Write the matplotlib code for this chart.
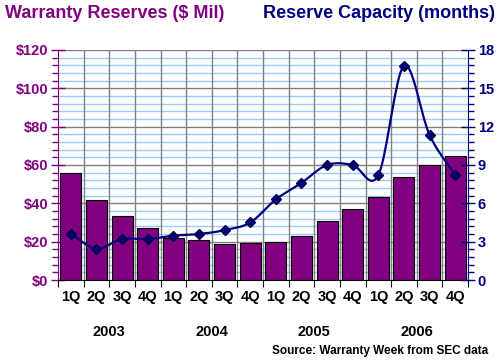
import matplotlib
matplotlib.use("Agg")
import matplotlib.pyplot as plt
import numpy as np

plt.rcParams["font.family"] = ["Liberation Sans", "DejaVu Sans"]
plt.rcParams["font.weight"] = "bold"

quarters = ["1Q", "2Q", "3Q", "4Q"] * 4
years = ["2003", "2004", "2005", "2006"]
reserves = [55.7, 41.6, 33.2, 27.0, 21.7, 20.7, 18.6, 19.3,
            19.8, 22.8, 30.6, 36.9, 43.1, 53.6, 59.8, 64.5]
capacity = [3.6, 2.45, 3.2, 3.2, 3.47, 3.6, 3.9, 4.5,
            6.3, 7.6, 9.0, 9.0, 8.2, 16.75, 11.35, 8.2]

PURPLE = "#800080"
NAVY = "#000080"


def smooth(x, y, n=20):
    # Catmull-Rom spline, like Excel's "smoothed line"
    x = np.asarray(x, float)
    y = np.asarray(y, float)
    px = np.concatenate([[2 * x[0] - x[1]], x, [2 * x[-1] - x[-2]]])
    py = np.concatenate([[2 * y[0] - y[1]], y, [2 * y[-1] - y[-2]]])
    xs, ys = [], []
    t = np.linspace(0, 1, n)
    for i in range(1, len(px) - 2):
        for p, out in ((px, xs), (py, ys)):
            p0, p1, p2, p3 = p[i - 1], p[i], p[i + 1], p[i + 2]
            out.extend(0.5 * ((2 * p1) + (-p0 + p2) * t
                              + (2 * p0 - 5 * p1 + 4 * p2 - p3) * t ** 2
                              + (-p0 + 3 * p1 - 3 * p2 + p3) * t ** 3))
    return np.array(xs), np.array(ys)


fig = plt.figure(figsize=(5, 3.62), dpi=100)
ax = fig.add_axes([0.116, 0.2265, 0.82, 0.6355])
x = np.arange(len(reserves))

# grid: light blue minor, gray major horizontal, gray vertical at category edges
for v in np.arange(0, 121, 4):
    if v % 20:
        ax.axhline(v, color="#99ccff", lw=1, zorder=0)
for v in range(20, 121, 20):
    ax.axhline(v, color="#808080", lw=1, zorder=0)
for b in np.arange(0.5, 15, 1):
    ax.axvline(b, color="#808080", lw=1, zorder=0)

ax.bar(x, reserves, width=0.82, color=PURPLE, edgecolor="black", lw=0.8, zorder=2)
ax.set_xlim(-0.5, 15.5)
ax.set_ylim(0, 120)
ax.set_yticks(range(0, 121, 20))
ax.set_yticklabels(["$%d" % v for v in range(0, 121, 20)], color=PURPLE, fontsize=10.5, fontweight="bold")
ax.set_yticks(range(0, 121, 4), minor=True)
ax.tick_params(axis="y", which="major", direction="inout", length=10, color=PURPLE, width=1, pad=2)
ax.tick_params(axis="y", which="minor", direction="out", length=4, color=PURPLE, width=1)
ax.set_xticks(np.arange(-0.5, 16, 1))
ax.set_xticklabels([])
ax.tick_params(axis="x", direction="out", length=5, color="black")
for i, q in enumerate(quarters):
    ax.text(i, -0.075, q, transform=ax.get_xaxis_transform(), ha="center", va="center",
            fontsize=10.5, fontweight="bold")
for j, yr in enumerate(years):
    ax.text(4 * j + 1.5, -0.225, yr, transform=ax.get_xaxis_transform(), ha="center", va="center",
            fontsize=10.5, fontweight="bold")
for s in ["top", "right"]:
    ax.spines[s].set_visible(False)
ax.spines["left"].set_color(PURPLE)
ax.spines["bottom"].set_color("black")

ax2 = ax.twinx()
sx, sy = smooth(x, capacity)
ax2.plot(sx, sy, color=NAVY, lw=1.6, zorder=3)
ax2.plot(x, capacity, ls="none", marker="D", ms=5, color=NAVY, mec="#000040", zorder=4)
ax2.set_ylim(0, 18)
ax2.set_yticks(range(0, 19, 3))
ax2.set_yticklabels([str(v) for v in range(0, 19, 3)], color=NAVY, fontsize=10.5, fontweight="bold")
ax2.set_yticks(np.arange(0, 18.01, 0.6), minor=True)
ax2.tick_params(axis="y", which="major", direction="inout", length=10, color=NAVY, width=1, pad=2)
ax2.tick_params(axis="y", which="minor", direction="out", length=4, color=NAVY, width=1)
for s in ["top", "left", "bottom"]:
    ax2.spines[s].set_visible(False)
ax2.spines["right"].set_color(NAVY)

fig.text(0.01, 0.962, "Warranty Reserves ($ Mil)", color=PURPLE, fontsize=13,
         fontweight="bold", va="center")
fig.text(0.99, 0.962, "Reserve Capacity (months)", color=NAVY, fontsize=13,
         fontweight="bold", va="center", ha="right")
fig.text(0.976, 0.03, "Source: Warranty Week from SEC data", fontsize=8.5,
         fontweight="bold", ha="right", va="center")

fig.savefig("out.png", dpi=100)
